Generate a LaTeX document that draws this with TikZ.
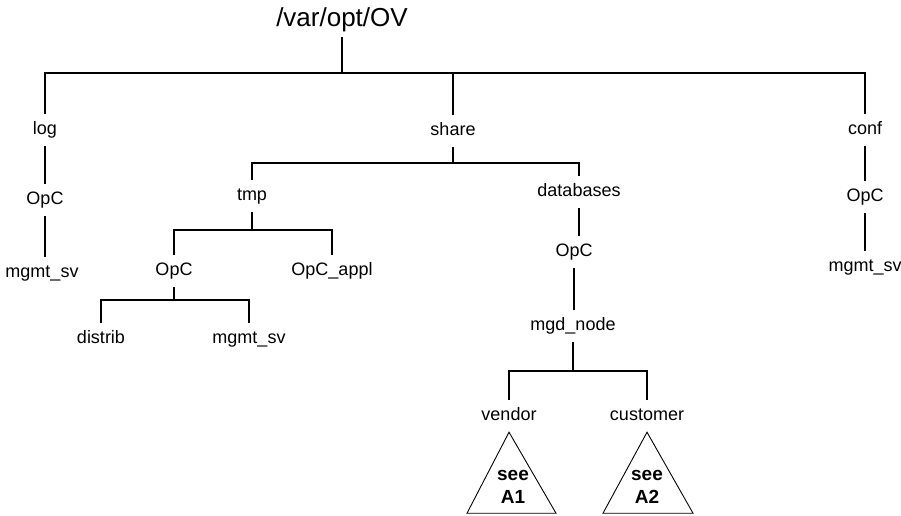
\documentclass[tikz,border=0pt]{standalone}
\usepackage{fontspec}
\setmainfont{Liberation Sans}
\usetikzlibrary{arrows,shapes}
\newcommand{\dirh}{32pt}
\newcommand{\dirfont}{\fontsize{18}{21}\selectfont}

\begin{document}
\begin{tikzpicture}[x=1pt, y=-1pt]
                %\draw[help lines] (0,0) grid (901,515);
                \tikzset{dir/.style = {inner sep = 0pt, minimum height = \dirh, text height = 13pt, text depth = 4pt, font = \dirfont},
                         branch/.style = {line width = 1.5pt},
                         tri/.style = {line width = 0.9pt},
                         seetext/.style = {align = center, font = \fontsize{19}{23}\selectfont\bfseries}}
                \useasboundingbox (0,0) rectangle (901,515);
                \node[dir, minimum height = 34pt, text height = 19pt, text depth = 6pt, font = \fontsize{26}{30}\selectfont] (root) at (342, 20) {/var/opt/OV};
                % log
                \node[dir] (log) at (45, 130) {log};
                \node[dir] (logopc) at (45, 200) {OpC};
                \node[dir] (logmgmt) at (42, 273) {mgmt\_sv};
                % share
                \node[dir] (share) at (453, 131) {share};
                \node[dir] (tmp) at (252, 196) {tmp};
                \node[dir] (tmpopc) at (174, 271) {OpC};
                \node[dir] (appl) at (332, 271) {OpC\_appl};
                \node[dir] (distrib) at (101, 339) {distrib};
                \node[dir] (tmpmgmt) at (249, 339) {mgmt\_sv};
                \node[dir] (dbs) at (579, 192) {databases};
                \node[dir] (dbopc) at (574, 252) {OpC};
                \node[dir] (mgd) at (573, 326) {mgd\_node};
                \node[dir] (vendor) at (509, 416) {vendor};
                \node[dir] (customer) at (647, 416) {customer};
                % conf
                \node[dir] (conf) at (865, 130) {conf};
                \node[dir] (confopc) at (865, 197) {OpC};
                \node[dir] (confmgmt) at (865, 267) {mgmt\_sv};

                \foreach \c in {log, share, conf}
                    \draw[branch] (root.south) -- ++(0, 36) -| (\c.north);
                \foreach \c in {tmp, dbs}
                    \draw[branch] (share.south) -- ++(0, 16) -| (\c.north);
                \foreach \c in {tmpopc, appl}
                    \draw[branch] (tmp.south) -- ++(0, 18) -| (\c.north);
                \foreach \c in {distrib, tmpmgmt}
                    \draw[branch] (tmpopc.south) -- ++(0, 13) -| (\c.north);
                \foreach \c in {vendor, customer}
                    \draw[branch] (mgd.south) -- ++(0, 29) -| (\c.north);
                \draw[branch] (log) -- (logopc);
                \draw[branch] (logopc) -- (logmgmt.north -| logopc);
                \draw[branch] (conf) -- (confopc);
                \draw[branch] (confopc) -- (confmgmt);
                \draw[branch] (dbs.south) -- (dbs.south |- dbopc.north);
                \draw[branch] (dbopc.south) -- (dbopc.south |- mgd.north);

                % see A1 / A2
                \draw[tri] (vendor.south) -- ++(-42, 81) -- ++(89, 0) -- cycle;
                \node[seetext] (seea) at (513, 487) {see\\A1};
                \draw[tri] (customer.south) -- ++(-44, 81) -- ++(90, 0) -- cycle;
                \node[seetext] (seeb) at (647, 487) {see\\A2};
\end{tikzpicture}
\end{document}
